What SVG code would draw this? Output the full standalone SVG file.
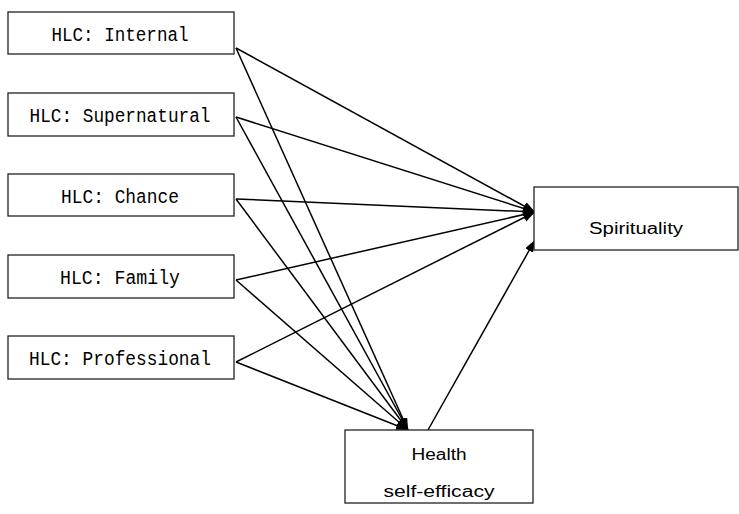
<svg xmlns="http://www.w3.org/2000/svg" width="739" height="514" viewBox="0 0 739 514">
<style>
.box{fill:#fff;stroke:#222;stroke-width:1.3}
.mono{font-family:"Liberation Mono","DejaVu Sans Mono",monospace;font-size:20px;fill:#000;text-anchor:middle}
.sans{font-family:"Liberation Sans","Noto Sans",sans-serif;font-size:16px;fill:#000;text-anchor:middle}
.conn{stroke:#000;stroke-width:1.5;fill:none;marker-end:url(#ah)}
</style>
<defs>
<marker id="ah" markerUnits="userSpaceOnUse" markerWidth="13" markerHeight="10" refX="12" refY="4.5" orient="auto">
<path d="M0,0 L12,4.5 L0,9 z" fill="#000"/>
</marker>
</defs>
<rect width="739" height="514" fill="#fff"/>
<g id="connectors">
<line class="conn" x1="236" y1="48" x2="535" y2="212"/>
<line class="conn" x1="236" y1="48" x2="408" y2="430"/>
<line class="conn" x1="236" y1="117" x2="535" y2="212"/>
<line class="conn" x1="236" y1="117" x2="408" y2="430"/>
<line class="conn" x1="236" y1="199" x2="535" y2="212"/>
<line class="conn" x1="236" y1="199" x2="408" y2="430"/>
<line class="conn" x1="236" y1="280" x2="535" y2="212"/>
<line class="conn" x1="236" y1="280" x2="408" y2="430"/>
<line class="conn" x1="236" y1="362" x2="535" y2="212"/>
<line class="conn" x1="236" y1="362" x2="408" y2="430"/>
<line class="conn" x1="428" y1="430" x2="535" y2="240"/>
</g>
<g id="hlc-internal">
<rect class="box" x="8" y="12" width="226" height="42"/>
<text class="mono" x="120" y="41" textLength="137" lengthAdjust="spacingAndGlyphs">HLC: Internal</text>
</g>
<g id="hlc-supernatural">
<rect class="box" x="8" y="93" width="226" height="43"/>
<text class="mono" x="120" y="122" textLength="181" lengthAdjust="spacingAndGlyphs">HLC: Supernatural</text>
</g>
<g id="hlc-chance">
<rect class="box" x="8" y="174" width="226" height="42"/>
<text class="mono" x="120" y="203" textLength="118" lengthAdjust="spacingAndGlyphs">HLC: Chance</text>
</g>
<g id="hlc-family">
<rect class="box" x="8" y="255" width="226" height="43"/>
<text class="mono" x="120" y="284" textLength="120" lengthAdjust="spacingAndGlyphs">HLC: Family</text>
</g>
<g id="hlc-professional">
<rect class="box" x="8" y="336" width="226" height="43"/>
<text class="mono" x="120" y="365" textLength="182" lengthAdjust="spacingAndGlyphs">HLC: Professional</text>
</g>
<g id="spirituality">
<rect class="box" x="534" y="187" width="204" height="63"/>
<text class="sans" x="636" y="234" textLength="94" lengthAdjust="spacingAndGlyphs">Spirituality</text>
</g>
<g id="health-self-efficacy">
<rect class="box" x="345" y="430" width="188" height="73"/>
<text class="sans" x="439" y="460" textLength="55" lengthAdjust="spacingAndGlyphs">Health</text>
<text class="sans" x="439" y="497" textLength="111" lengthAdjust="spacingAndGlyphs">self-efficacy</text>
</g>
</svg>
